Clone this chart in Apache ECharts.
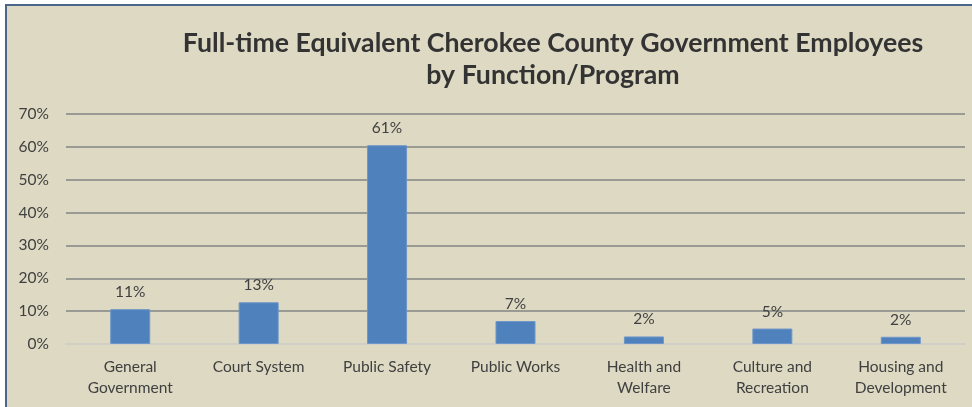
<!DOCTYPE html>
<html><head><meta charset="utf-8">
<script src="https://cdn.jsdelivr.net/npm/echarts@6/dist/echarts.min.js"></script>
<style>
html,body{margin:0;padding:0;background:#fff;width:972px;height:407px;overflow:hidden;}
#frame{position:absolute;left:5px;top:4px;width:980px;height:420px;background:#DDD9C3;border-left:2px solid #4A6688;border-top:2px solid #4A6688;}
#c{position:absolute;left:0;top:0;width:972px;height:407px;}
</style></head>
<body>
<div id="frame"></div>
<div id="c"></div>
<script>
const categories = ["General\nGovernment","Court System","Public Safety","Public Works","Health and\nWelfare","Culture and\nRecreation","Housing and\nDevelopment"];
const values = [10.6, 12.7, 60.5, 7.0, 2.3, 4.7, 2.2];
const yTicks = [0,10,20,30,40,50,60,70];
const titleText = "Full-time Equivalent Cherokee County Government Employees\nby Function/Program";

const chart = echarts.init(document.getElementById('c'));
chart.setOption({
  backgroundColor: 'transparent',
  title: {
    text: titleText,
    left: 548, top: 22, textAlign: 'center',
    textStyle: {fontFamily: 'Lato', fontWeight: 'bold', fontSize: 26.7, color: '#333333', lineHeight: 32, align: 'center'}
  },
  grid: {left: 66, right: 7, top: 114, bottom: 63},
  xAxis: {
    type: 'category', data: categories,
    axisLine: {show: true, lineStyle: {color: '#CFCFC6', width: 2}},
    axisTick: {show: false},
    axisLabel: {fontFamily: 'Lato', fontSize: 15.5, color: '#404040', lineHeight: 21, margin: 12, interval: 0}
  },
  yAxis: {
    type: 'value', min: yTicks[0], max: yTicks[yTicks.length-1], interval: 10,
    axisLine: {show: false}, axisTick: {show: false},
    splitLine: {lineStyle: {color: '#9A9A94', width: 2}},
    axisLabel: {fontFamily: 'Lato', fontSize: 15.5, color: '#404040', margin: 17, formatter: v => v + '%'}
  },
  series: [{
    type: 'bar', data: values, barWidth: 40,
    itemStyle: {color: '#4F81BD', borderColor: '#6F96C8', borderWidth: 1},
    label: {show: true, position: 'top', distance: 9, fontFamily: 'Lato', fontSize: 15.5, color: '#404040',
      formatter: p => Math.round(p.value) + '%'}
  }]
});
</script>
</body></html>
